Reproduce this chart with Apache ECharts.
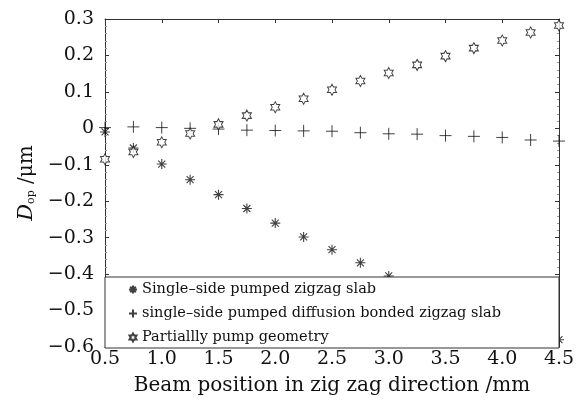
<!DOCTYPE html>
<html>
<head>
<meta charset="utf-8">
<script src="https://cdn.jsdelivr.net/npm/echarts@6/dist/echarts.min.js"></script>
<style>
html, body { margin: 0; padding: 0; background: #fff; }
#chart { width: 578px; height: 401px; }
</style>
</head>
<body>
<div id="chart"></div>
<script>
// beam positions (mm)
var positions = [0.5, 0.75, 1.0, 1.25, 1.5, 1.75, 2.0, 2.25, 2.5, 2.75, 3.0, 3.25, 3.5, 3.75, 4.0, 4.25, 4.5];
// single-side pumped zigzag slab (points 3.25..4.25 are hidden behind the legend)
var zigzag = [-0.01, -0.054, -0.098, -0.141, -0.182, -0.220, -0.260, -0.298, -0.333, -0.369, -0.405, null, null, null, null, null, -0.58];
// single-side pumped diffusion bonded zigzag slab
var bonded = [0.002, 0.004, 0.002, 0.0, -0.002, -0.005, -0.006, -0.007, -0.008, -0.012, -0.015, -0.016, -0.02, -0.022, -0.025, -0.032, -0.035];
// partially pump geometry
var partial = [-0.085, -0.065, -0.038, -0.014, 0.011, 0.035, 0.058, 0.081, 0.106, 0.13, 0.152, 0.174, 0.198, 0.22, 0.241, 0.263, 0.282];

var names = ['Single\u2013side pumped zigzag slab', 'single\u2013side pumped diffusion bonded zigzag slab', 'Partiallly pump geometry'];

var starPath = 'path://M0,-1L0,1M-1,0L1,0M-0.7,-0.7L0.7,0.7M-0.7,0.7L0.7,-0.7';
var plusPath = 'path://M0,-1L0,1M-1,0L1,0';
var hexPath = 'path://M0,-1L0.289,-0.5L0.866,-0.5L0.577,0L0.866,0.5L0.289,0.5L0,1L-0.289,0.5L-0.866,0.5L-0.577,0L-0.866,-0.5L-0.289,-0.5Z';

function pairs(ys) {
  var out = [];
  for (var i = 0; i < positions.length; i++) {
    if (ys[i] !== null) out.push([positions[i], ys[i]]);
  }
  return out;
}

var font = 'DejaVu Serif';
function fmt(v) {
  if (Math.abs(v) < 1e-9) return '0';
  return v.toFixed(1).replace('-', '\u2212');
}

var chart = echarts.init(document.getElementById('chart'));

var xBase = {
  min: 0.5, max: 4.5, interval: 0.5,
  axisLine: { onZero: false, lineStyle: { color: '#333', width: 1 } },
  axisTick: { inside: true, length: 4, lineStyle: { color: '#333' } },
  splitLine: { show: false }
};
var yBase = {
  min: -0.6, max: 0.3, interval: 0.1,
  axisLine: { onZero: false, lineStyle: { color: '#333', width: 1 } },
  axisTick: { inside: true, length: 4, lineStyle: { color: '#333' } },
  minorTick: { show: true, splitNumber: 5, length: 2, lineStyle: { color: '#999' } },
  splitLine: { show: false }
};

chart.setOption({
  animation: false,
  backgroundColor: '#fff',
  grid: { left: 105, right: 19, top: 19, bottom: 50 },
  xAxis: [
    Object.assign({}, xBase, {
      type: 'value', position: 'bottom',
      axisLabel: { formatter: function (v) { return v.toFixed(1); }, color: '#111', fontFamily: font, fontSize: 19, margin: 3 },
      name: 'Beam position in zig zag direction /mm',
      nameLocation: 'middle', nameGap: 29,
      nameTextStyle: { color: '#111', fontFamily: font, fontSize: 20 }
    }),
    Object.assign({}, xBase, { type: 'value', position: 'top', axisLabel: { show: false } })
  ],
  yAxis: [
    Object.assign({}, yBase, {
      type: 'value', position: 'left',
      axisLabel: { formatter: fmt, color: '#111', fontFamily: font, fontSize: 19, margin: 11 },
      name: '{i|D}{s|op} /\u03bcm',
      nameLocation: 'middle', nameGap: 66, nameRotate: 90,
      nameTextStyle: {
        color: '#111', fontFamily: font, fontSize: 20,
        rich: {
          i: { fontFamily: font, fontStyle: 'italic', fontSize: 21, color: '#111' },
          s: { fontFamily: font, fontSize: 11, color: '#111', padding: [10, 0, 0, 0] }
        }
      }
    }),
    Object.assign({}, yBase, { type: 'value', position: 'right', axisLabel: { show: false } })
  ],
  graphic: [{
    type: 'rect', z: 3,
    shape: { x: 105, y: 277, width: 454, height: 71 },
    style: { fill: '#fff', stroke: '#333', lineWidth: 1 }
  }],
  legend: {
    orient: 'vertical', left: 123, top: 277, z: 5,
    itemWidth: 8, itemHeight: 8, itemGap: 9,
    textStyle: { color: '#111', fontFamily: font, fontSize: 14.5 },
    data: [
      { name: names[0], icon: starPath },
      { name: names[1], icon: plusPath },
      { name: names[2], icon: hexPath }
    ]
  },
  series: [
    {
      name: names[0], type: 'scatter', data: pairs(zigzag), z: 2,
      symbol: starPath, symbolSize: 10,
      itemStyle: { color: 'transparent', borderColor: '#111', borderWidth: 1.1 }
    },
    {
      name: names[1], type: 'scatter', data: pairs(bonded), z: 2,
      symbol: plusPath, symbolSize: 12,
      itemStyle: { color: 'transparent', borderColor: '#111', borderWidth: 1 }
    },
    {
      name: names[2], type: 'scatter', data: pairs(partial), z: 2,
      symbol: hexPath, symbolSize: [9, 11],
      itemStyle: { color: '#fff', borderColor: '#111', borderWidth: 1 }
    }
  ]
});
</script>
</body>
</html>
